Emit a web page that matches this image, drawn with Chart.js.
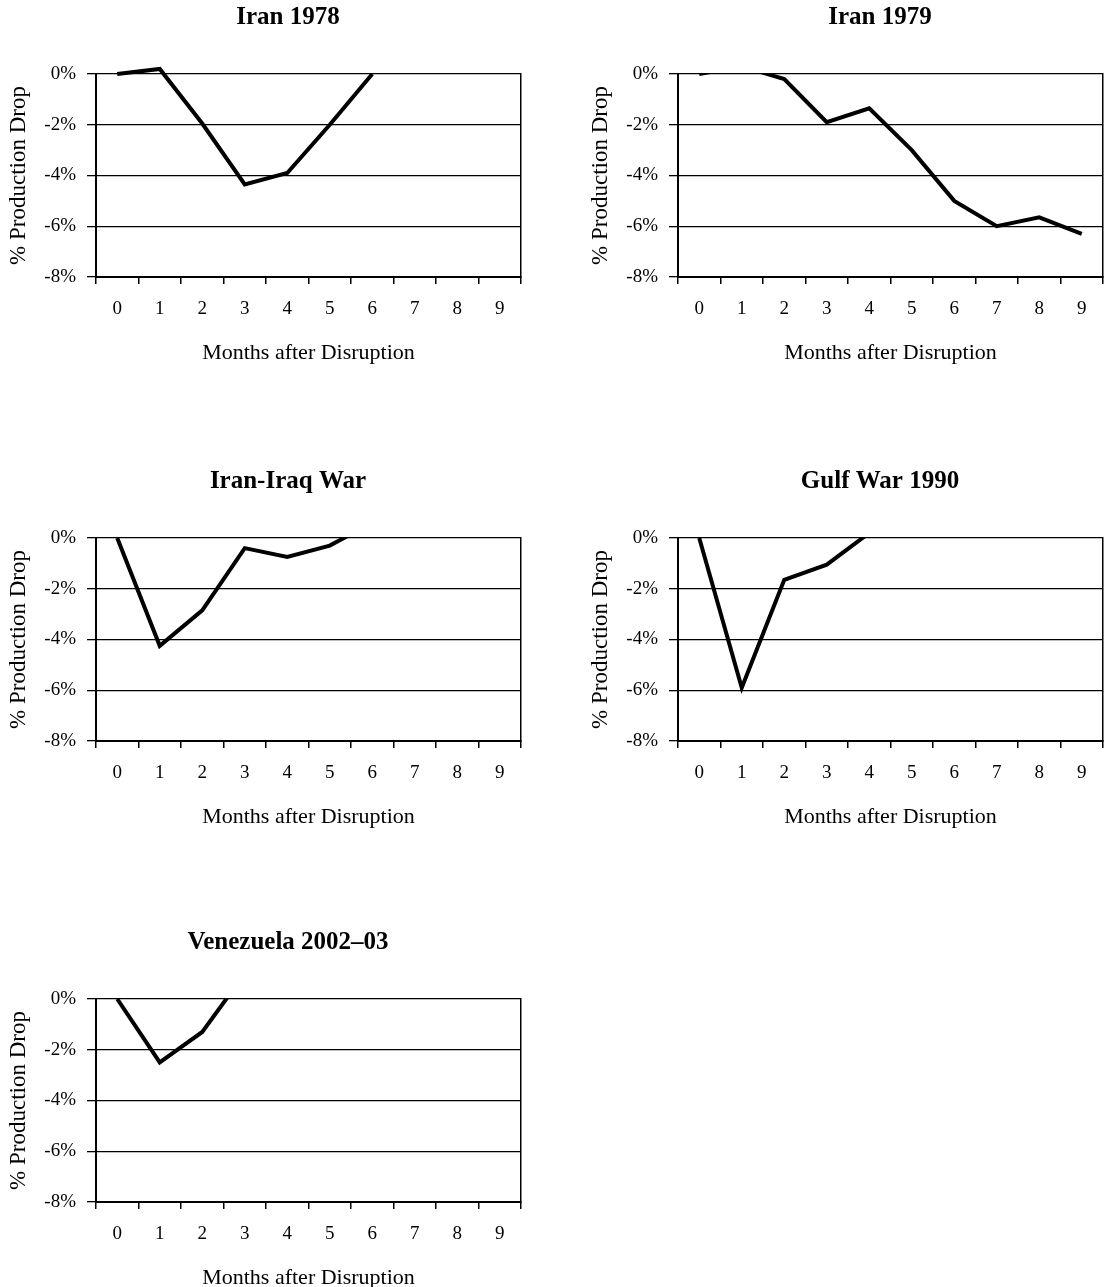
<!DOCTYPE html>
<html>
<head>
<meta charset="utf-8">
<script src="https://cdn.jsdelivr.net/npm/chart.js@4.4.1/dist/chart.umd.min.js"></script>
<style>
  html, body { margin: 0; padding: 0; background: #fff; overflow: hidden; }
  body { width: 1112px; height: 1287px; position: relative; }
  canvas { position: absolute; }
</style>
</head>
<body>
<canvas id="c1" width="576" height="370" style="left:0px;top:0px"></canvas>
<canvas id="c2" width="596" height="370" style="left:582px;top:0px"></canvas>
<canvas id="c3" width="576" height="370" style="left:0px;top:464px"></canvas>
<canvas id="c4" width="596" height="370" style="left:582px;top:464px"></canvas>
<canvas id="c5" width="576" height="370" style="left:0px;top:925px"></canvas>
<script>
const months = ["0", "1", "2", "3", "4", "5", "6", "7", "8", "9"];

// % production drop by month after the disruption
const iran1978 = [0, 0.2, -1.95, -4.35, -3.9, -2.0, 0, null, null, null];
const iran1979 = [0, 0.3, -0.2, -1.9, -1.35, -3.0, -5.0, -6.0, -5.65, -6.3];
const iranIraq = [0, -4.25, -2.85, -0.4, -0.75, -0.3, 0.6, null, null, null];
const gulfWar = [0, -5.9, -1.65, -1.05, 0.2, null, null, null, null, null];
const venezuela = [0, -2.5, -1.3, 1.0, null, null, null, null, null, null];

const yMin = -8;
const yMax = 0;
const yStep = 2;

const serif = "'Liberation Serif', 'Times New Roman', serif";
Chart.defaults.font.family = serif;
Chart.defaults.color = "#000";

function makeChart(id, title, values, rightGap, clipTop) {
    return new Chart(document.getElementById(id), {
        type: "line",
        data: {
            labels: months,
            datasets: [
                {
                    data: values,
                    borderColor: "#000",
                    borderWidth: 4,
                    pointRadius: 0,
                    tension: 0,
                    clip: { left: 4, right: 4, top: clipTop, bottom: 4 },
                },
            ],
        },
        options: {
            responsive: false,
            animation: false,
            events: [],
            layout: { padding: 0 },
            plugins: {
                legend: { display: false },
                tooltip: { enabled: false },
                title: {
                    display: true,
                    text: title,
                    color: "#000",
                    font: { family: serif, size: 25, weight: "bold" },
                    padding: { top: 3, bottom: 41 },
                },
            },
            scales: {
                x: {
                    type: "category",
                    offset: true,
                    grid: {
                        offset: true,
                        drawOnChartArea: false,
                        tickLength: 7,
                        color: "#000",
                        lineWidth: 1.5,
                    },
                    border: { color: "#000", width: 2 },
                    ticks: { font: { family: serif, size: 19 }, padding: 14, maxRotation: 0, autoSkip: false },
                    title: {
                        display: true,
                        text: "Months after Disruption",
                        font: { family: serif, size: 22 },
                        padding: { top: 0, bottom: 4 },
                    },
                    afterFit: (s) => { s.height = 93; },
                },
                y: {
                    min: yMin,
                    max: yMax,
                    grid: { color: "#000", lineWidth: 1.3, tickLength: 9 },
                    border: { color: "#000", width: 2 },
                    ticks: {
                        stepSize: yStep,
                        font: { family: serif, size: 19 },
                        padding: 11,
                        callback: (v) => v + "%",
                    },
                    title: {
                        display: true,
                        text: "% Production Drop",
                        font: { family: serif, size: 23 },
                        padding: { top: 5, bottom: 0 },
                    },
                    afterFit: (s) => { s.width = 96; },
                },
                yRight: {
                    position: "right",
                    min: yMin,
                    max: yMax,
                    ticks: { display: false },
                    grid: { drawOnChartArea: false, drawTicks: false },
                    border: { color: "#000", width: 1.5 },
                    afterFit: (s) => { s.width = rightGap; },
                },
            },
        },
    });
}

makeChart("c1", "Iran 1978", iran1978, 55, 8);
makeChart("c2", "Iran 1979", iran1979, 75, 0);
makeChart("c3", "Iran-Iraq War", iranIraq, 55, 0);
makeChart("c4", "Gulf War 1990", gulfWar, 75, 0);
makeChart("c5", "Venezuela 2002\u201303", venezuela, 55, 0);
</script>
</body>
</html>
